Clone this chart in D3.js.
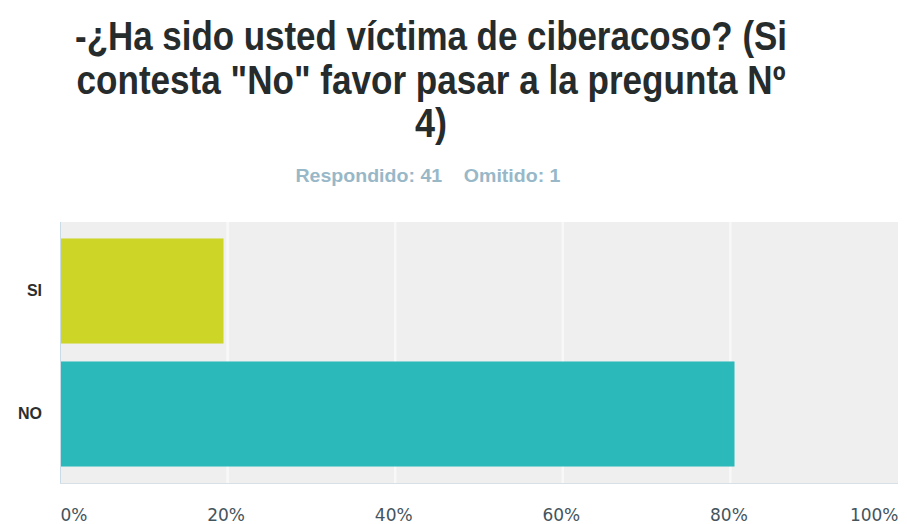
<!DOCTYPE html>
<html>
<head>
<meta charset="utf-8">
<script src="https://cdn.jsdelivr.net/npm/d3@7"></script>
<style>
  html, body { margin: 0; padding: 0; background: #ffffff; }
  svg { display: block; }
</style>
</head>
<body>
<svg id="chart" width="907" height="524"></svg>
<script>
// ---- data ----
const titleLines = ['-¿Ha sido usted víctima de ciberacoso? (Si', 'contesta "No" favor pasar a la pregunta Nº', '4)'];
const subtitle = 'Respondido: 41\u00a0\u00a0\u00a0\u00a0Omitido: 1';
const categories = ['SI', 'NO'];
const percentValues = [19.51, 80.49];
const barColors = ['#cdd527', '#2cb9ba'];
const tickValues = [0, 20, 40, 60, 80, 100];
const tickLabels = ['0%', '20%', '40%', '60%', '80%', '100%'];

// ---- layout ----
const svg = d3.select('#chart');
const plot = { left: 60, right: 898, top: 222, bottom: 483 };

// title
const titleWidths = [712, 709, 32];
const titleBase = [50, 94, 137];
titleLines.forEach((t, i) => {
  svg.append('text')
    .attr('x', 431)
    .attr('y', titleBase[i])
    .attr('text-anchor', 'middle')
    .attr('font-family', '"Liberation Sans", Arial, sans-serif')
    .attr('font-weight', 'bold')
    .attr('font-size', 40)
    .attr('fill', '#262b2c')
    .attr('textLength', titleWidths[i])
    .attr('lengthAdjust', 'spacingAndGlyphs')
    .text(t);
});

svg.append('text')
  .attr('x', 428)
  .attr('y', 182)
  .attr('text-anchor', 'middle')
  .attr('font-family', '"Liberation Sans", Arial, sans-serif')
  .attr('font-weight', 'bold')
  .attr('font-size', 18)
  .attr('fill', '#98b8c8')
  .attr('textLength', 265)
  .attr('lengthAdjust', 'spacingAndGlyphs')
  .text(subtitle);

// scales
const x = d3.scaleLinear().domain([0, 100]).range([plot.left, plot.right]);
const y = d3.scaleBand().domain(categories).range([plot.top, plot.bottom])
  .paddingInner(0.146).paddingOuter(0.134);

// plot background
svg.append('rect')
  .attr('x', plot.left).attr('y', plot.top)
  .attr('width', plot.right - plot.left).attr('height', plot.bottom - plot.top)
  .attr('fill', '#efefef');

// gridlines
svg.append('g').selectAll('line')
  .data(tickValues.slice(1, -1))
  .join('line')
  .attr('x1', d => x(d)).attr('x2', d => x(d))
  .attr('y1', plot.top).attr('y2', plot.bottom)
  .attr('stroke', '#f8f8f8')
  .attr('stroke-width', 2.5);

// axis lines (left & bottom)
svg.append('line')
  .attr('x1', plot.left + 0.5).attr('x2', plot.left + 0.5)
  .attr('y1', plot.top).attr('y2', plot.bottom)
  .attr('stroke', '#c9dbe6').attr('stroke-width', 1);
svg.append('line')
  .attr('x1', plot.left).attr('x2', plot.right)
  .attr('y1', plot.bottom + 0.5).attr('y2', plot.bottom + 0.5)
  .attr('stroke', '#d6e0e6').attr('stroke-width', 1);

// bars
svg.append('g').selectAll('rect')
  .data(categories)
  .join('rect')
  .attr('x', x(0) + 1)
  .attr('y', d => y(d))
  .attr('width', (d, i) => x(percentValues[i]) - x(0) - 1)
  .attr('height', y.bandwidth())
  .attr('fill', (d, i) => barColors[i]);

// y axis labels
const yAxis = d3.axisLeft(y).tickSize(0).tickPadding(0);
const yg = svg.append('g').attr('transform', `translate(${plot.left - 18},0)`).call(yAxis);
yg.select('.domain').remove();
yg.selectAll('text')
  .attr('font-family', '"Liberation Sans", Arial, sans-serif')
  .attr('font-weight', 'bold')
  .attr('font-size', 16)
  .attr('fill', '#2e2e2e');

// x axis labels
const xAxis = d3.axisBottom(x).tickValues(tickValues)
  .tickFormat((d, i) => tickLabels[i]).tickSize(0).tickPadding(0);
const xg = svg.append('g').attr('transform', `translate(0,${plot.bottom})`).call(xAxis);
xg.select('.domain').remove();
xg.selectAll('text')
  .attr('dy', null)
  .attr('y', 38)
  .attr('font-family', '"DejaVu Sans", Verdana, sans-serif')
  .attr('font-size', 17)
  .attr('fill', '#44545c')
  .attr('text-anchor', (d, i) => i === 0 ? 'start' : (i === tickValues.length - 1 ? 'end' : 'middle'))
  .attr('dx', (d, i) => i === 0 ? 0 : (i === tickValues.length - 1 ? 0 : -2));
</script>
</body>
</html>
